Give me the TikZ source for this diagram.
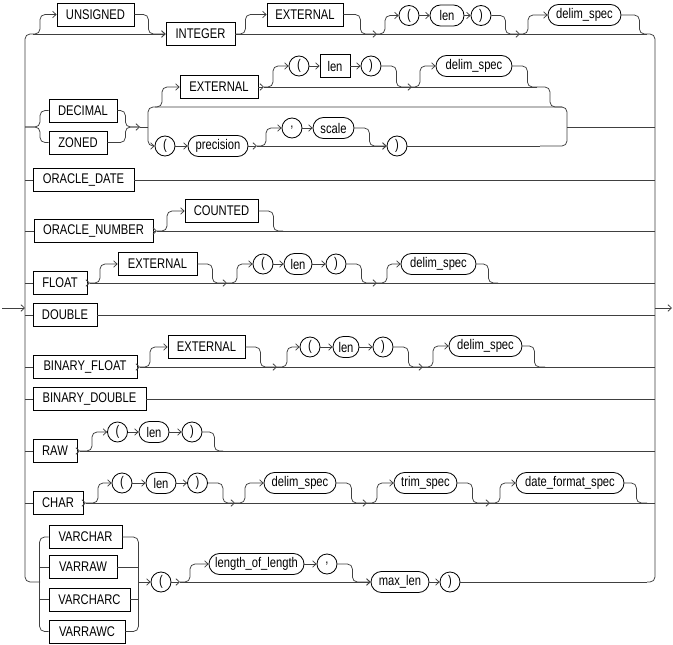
\documentclass[tikz,border=0pt]{standalone}
\usepackage{fontspec}
\setmainfont{Liberation Sans}[FakeStretch=0.8]
\usetikzlibrary{arrows.meta,shapes.misc}
\begin{document}
\begin{tikzpicture}[x=1pt,y=-1pt,
  line/.style={draw=black!75, line width=0.75pt, rounded corners=5pt},
  arr/.style={-{Straight Barb[length=3.5pt,width=6.5pt]}},
  jog/.style={to path={-- ++(#1,0) |- (\tikztotarget)}},
  rbox/.style={draw=black, line width=0.8pt, rectangle, minimum height=23pt, minimum width=#1, inner xsep=1pt, inner ysep=0pt},
  rterm/.style={draw=black, line width=0.8pt, rounded rectangle, minimum height=21pt, minimum width=#1, inner xsep=1pt, inner ysep=0pt},
  rcirc/.style={draw=black, line width=0.8pt, circle, minimum size=20pt, inner sep=0pt},
  every node/.style={font=\fontsize{14}{16}\selectfont}]
\path[use as bounding box, fill=white] (0,0) rectangle (673,645);

% ---------- frame coordinates ----------
\coordinate (a1) at (33,34);
\coordinate (lt) at (25,34);
\coordinate (lbt) at (25,582);
\coordinate (j11) at (40,582);
\coordinate (rt) at (647,34);
\coordinate (rtc) at (655,34);
\coordinate (rbc) at (655,582);
\coordinate (rb) at (647,582);
\coordinate (in) at (2,308);
\coordinate (inj) at (25,308);
\coordinate (outj) at (655,308);
\coordinate (out) at (672,308);

\draw[line] (a1) -- (lt) -- (lbt) -- (j11);
\draw[line] (rt) -- (rtc) -- (rbc) -- (rb);
\draw[line,arr] (in) -- (inj);
\draw[line,arr] (outj) -- (out);

% ---------- row 1 ----------
\node[rbox=77pt] (uns) at (95.5,14.5) {UNSIGNED};
\node[rbox=69pt] (int) at (200.5,34) {INTEGER};
\node[rbox=76pt] (exta) at (305,14.5) {EXTERNAL};
\node[rcirc] (lpa) at (409,15.5) {(};
\node[rterm=36pt] (lena) at (447,15.5) {len};
\node[rcirc] (rpa) at (481,15.5) {)};
\node[rterm=75pt] (dsa) at (584.5,15) {delim\_spec};
\coordinate (p1) at (377,34);
\coordinate (p2) at (520,34);
\draw[line,arr] (a1) to[jog=7] (uns.west);
\draw[line,arr] (a1) -- (int.west);
\draw[line,arr] (uns.east) to[jog=14] (int.west);
\draw[line,arr] (int.east) to[jog=10] (exta.west);
\draw[line] (int.east) -- (p1);
\draw[line,arr] (exta.east) to[jog=17] (p1);
\draw[line,arr] (p1) to[jog=8] (lpa.west);
\draw[line,arr] (lpa.east) -- (lena.west);
\draw[line,arr] (lena.east) -- (rpa.west);
\draw[line] (p1) -- (p2);
\draw[line,arr] (rpa.east) to[jog=14] (p2);
\draw[line,arr] (p2) to[jog=8] (dsa.west);
\draw[line] (p2) -- (rt);
\draw[line] (dsa.east) to[jog=18] (rt);

% ---------- row 2 ----------
\node[rbox=68pt] (dec) at (83,110.5) {DECIMAL};
\node[rbox=58pt] (zon) at (78,142.5) {ZONED};
\coordinate (l2) at (25,127);
\coordinate (j2) at (140,127);
\coordinate (k2) at (148,127);
\coordinate (k2t) at (148,107);
\coordinate (m2a) at (155,107);
\coordinate (m2c) at (562,107);
\coordinate (b2t) at (567,107);
\coordinate (b2m) at (567,127);
\coordinate (b2b) at (567,146);
\coordinate (c2e) at (540,146);
\coordinate (r2) at (655,127);
\draw[line] (l2) to[jog=15] (dec.west);
\draw[line] (l2) to[jog=15] (zon.west);
\draw[line,arr] (dec.east) to[jog=8] (j2);
\draw[line] (zon.east) to[jog=18] (j2);
\draw[line] (j2) -- (k2);
\draw[line] (k2) -- (k2t) -- (b2t) -- (b2b) -- (c2e);
\draw[line] (b2m) -- (r2);

\node[rbox=78pt] (extb) at (219,87) {EXTERNAL};
\node[rcirc] (lpb) at (299,66) {(};
\node[rbox=30pt] (lenb) at (335,66) {len};
\node[rcirc] (rpb) at (371,66) {)};
\node[rterm=78pt] (dsb) at (474,66) {delim\_spec};
\coordinate (p3) at (264,87);
\coordinate (p4) at (412,87);
\coordinate (p5) at (537,87);
\draw[line,arr] (m2a) to[jog=7] (extb.west);
\draw[line,arr] (extb.east) -- (p3);
\draw[line,arr] (p3) to[jog=9] (lpb.west);
\draw[line] (p3) -- (p4);
\draw[line,arr] (lpb.east) -- (lenb.west);
\draw[line,arr] (lenb.east) -- (rpb.west);
\draw[line,arr] (rpb.east) to[jog=15] (p4);
\draw[line,arr] (p4) to[jog=8] (dsb.west);
\draw[line] (p4) -- (p5);
\draw[line] (dsb.east) to[jog=15] (p5);
\draw[line] (p5) to[jog=13] (m2c);

\node[rcirc] (lpc) at (165,146) {(};
\node[rterm=62pt] (prec) at (218,146) {precision};
\node[rcirc] (cmc) at (292,128) {,};
\node[rterm=43pt] (scl) at (333.5,128) {scale};
\node[rcirc] (rpc) at (397,146) {)};
\coordinate (p6) at (257,146);
\draw[line,arr] (k2) |- (lpc.west);
\draw[line,arr] (lpc.east) -- (prec.west);
\draw[line,arr] (prec.east) -- (p6);
\draw[line,arr] (p6) to[jog=9] (cmc.west);
\draw[line,arr] (p6) -- (rpc.west);
\draw[line,arr] (cmc.east) -- (scl.west);
\draw[line,arr] (scl.east) to[jog=15] (rpc.west);
\draw[line] (rpc.east) -- (c2e);

% ---------- row 3 ----------
\node[rbox=101pt] (odt) at (83.5,180) {ORACLE\_DATE};
\coordinate (l3) at (25,180);
\coordinate (r3) at (655,180);
\draw[line] (l3) -- (odt.west);
\draw[line] (odt.east) -- (r3);

% ---------- row 4 ----------
\node[rbox=119pt] (onum) at (93.5,231) {ORACLE\_NUMBER};
\node[rbox=73pt] (cnt) at (221.5,211) {COUNTED};
\coordinate (l4) at (25,231);
\coordinate (r4) at (655,231);
\coordinate (p7) at (157,231);
\coordinate (q4) at (283,231);
\draw[line] (l4) -- (onum.west);
\draw[line,arr] (onum.east) -- (p7);
\draw[line,arr] (p7) to[jog=10] (cnt.west);
\draw[line] (p7) -- (r4);
\draw[line] (cnt.east) to[jog=15] (q4);

% ---------- row 5 ----------
\node[rbox=54pt] (flt) at (60,283) {FLOAT};
\node[rbox=79pt] (extc) at (157.5,264) {EXTERNAL};
\node[rcirc] (lpd) at (263,264) {(};
\node[rterm=30pt] (lend) at (298,264) {len};
\node[rcirc] (rpd) at (336,264) {)};
\node[rterm=77pt] (dsd) at (438.5,264) {delim\_spec};
\coordinate (l5) at (25,283);
\coordinate (r5) at (655,283);
\coordinate (p8) at (90,283);
\coordinate (p9) at (227,283);
\coordinate (p10) at (377,283);
\coordinate (q5) at (498,283);
\draw[line] (l5) -- (flt.west);
\draw[line,arr] (flt.east) -- (p8);
\draw[line,arr] (p8) to[jog=10] (extc.west);
\draw[line] (p8) -- (r5);
\draw[line,arr] (extc.east) to[jog=15] (p9);
\draw[line,arr] (p9) to[jog=10] (lpd.west);
\draw[line,arr] (lpd.east) -- (lend.west);
\draw[line,arr] (lend.east) -- (rpd.west);
\draw[line,arr] (rpd.east) to[jog=15] (p10);
\draw[line,arr] (p10) to[jog=10] (dsd.west);
\draw[line] (dsd.east) to[jog=12] (q5);

% ---------- row 6 ----------
\node[rbox=64pt] (dbl) at (65,315) {DOUBLE};
\coordinate (l6) at (25,315);
\coordinate (r6) at (655,315);
\draw[line] (l6) -- (dbl.west);
\draw[line] (dbl.east) -- (r6);

% ---------- row 7 ----------
\node[rbox=104pt] (bfl) at (85,367) {BINARY\_FLOAT};
\node[rbox=77pt] (extd) at (206.5,347) {EXTERNAL};
\node[rcirc] (lpe) at (310,347) {(};
\node[rterm=28pt] (lene) at (346,347) {len};
\node[rcirc] (rpe) at (383,347) {)};
\node[rterm=75pt] (dse) at (485.5,346) {delim\_spec};
\coordinate (l7) at (25,367);
\coordinate (r7) at (655,367);
\coordinate (p11) at (140,367);
\coordinate (p12) at (277,367);
\coordinate (p13) at (423,367);
\coordinate (q7) at (545,367);
\draw[line] (l7) -- (bfl.west);
\draw[line,arr] (bfl.east) -- (p11);
\draw[line,arr] (p11) to[jog=10] (extd.west);
\draw[line] (p11) -- (r7);
\draw[line,arr] (extd.east) to[jog=15] (p12);
\draw[line,arr] (p12) to[jog=10] (lpe.west);
\draw[line,arr] (lpe.east) -- (lene.west);
\draw[line,arr] (lene.east) -- (rpe.west);
\draw[line,arr] (rpe.east) to[jog=15] (p13);
\draw[line,arr] (p13) to[jog=10] (dse.west);
\draw[line] (dse.east) to[jog=12] (q7);

% ---------- row 8 ----------
\node[rbox=113pt] (bdb) at (89.5,399) {BINARY\_DOUBLE};
\coordinate (l8) at (25,399);
\coordinate (r8) at (655,399);
\draw[line] (l8) -- (bdb.west);
\draw[line] (bdb.east) -- (r8);

% ---------- row 9 ----------
\node[rbox=44pt] (raw) at (55,451) {RAW};
\node[rcirc] (lpf) at (117.5,432) {(};
\node[rterm=32pt] (lenf) at (154,432) {len};
\node[rcirc] (rpf) at (192,432) {)};
\coordinate (l9) at (25,451);
\coordinate (r9) at (655,451);
\coordinate (p14) at (80,451);
\coordinate (q9) at (223,451);
\draw[line] (l9) -- (raw.west);
\draw[line,arr] (raw.east) -- (p14);
\draw[line,arr] (p14) to[jog=12] (lpf.west);
\draw[line,arr] (lpf.east) -- (lenf.west);
\draw[line,arr] (lenf.east) -- (rpf.west);
\draw[line] (rpf.east) to[jog=12] (q9);
\draw[line] (p14) -- (r9);

% ---------- row 10 ----------
\node[rbox=50pt] (chr) at (58,503) {CHAR};
\node[rcirc] (lpg) at (122,483) {(};
\node[rterm=32pt] (leng) at (161,483) {len};
\node[rcirc] (rpg) at (197.5,483) {)};
\node[rterm=74pt] (dsg) at (300,483) {delim\_spec};
\node[rterm=65pt] (trm) at (425.5,483) {trim\_spec};
\node[rterm=110pt] (dfs) at (570,483) {date\_format\_spec};
\coordinate (l10) at (25,503);
\coordinate (r10) at (655,503);
\coordinate (p15) at (86,503);
\coordinate (p16) at (235,503);
\coordinate (p17) at (367,503);
\coordinate (p18) at (490,503);
\coordinate (q10) at (647,503);
\draw[line] (l10) -- (chr.west);
\draw[line,arr] (chr.east) -- (p15);
\draw[line,arr] (p15) to[jog=12] (lpg.west);
\draw[line,arr] (lpg.east) -- (leng.west);
\draw[line,arr] (leng.east) -- (rpg.west);
\draw[line,arr] (rpg.east) to[jog=15] (p16);
\draw[line,arr] (p16) to[jog=10] (dsg.west);
\draw[line,arr] (dsg.east) to[jog=15] (p17);
\draw[line,arr] (p17) to[jog=10] (trm.west);
\draw[line,arr] (trm.east) to[jog=15] (p18);
\draw[line,arr] (p18) to[jog=10] (dfs.west);
\draw[line] (dfs.east) to[jog=12] (q10);
\draw[line] (p15) -- (r10);

% ---------- row 11 ----------
\node[rbox=73pt] (vch) at (85.5,537) {VARCHAR};
\node[rbox=68pt] (vrw) at (83,567) {VARRAW};
\node[rbox=81pt] (vcc) at (89.5,599.5) {VARCHARC};
\node[rbox=76pt] (vrc) at (87,631.5) {VARRAWC};
\coordinate (bl1) at (40,567);
\coordinate (bl2) at (40,599.5);
\coordinate (br1) at (138,567);
\coordinate (br2) at (138,599.5);
\coordinate (j11r) at (138,582);
\draw[line] (vch.west) -- ++(-9,0) |- (vrc.west);
\draw[line] (bl1) -- (vrw.west);
\draw[line] (bl2) -- (vcc.west);
\draw[line] (vch.east) -- ++(16,0) |- (vrc.east);
\draw[line] (vrw.east) -- (br1);
\draw[line] (vcc.east) -- (br2);

\node[rcirc] (lph) at (161,582) {(};
\node[rterm=97pt] (lol) at (256.5,564) {length\_of\_length};
\node[rcirc] (cmh) at (327,564) {,};
\node[rterm=60pt] (mxl) at (400,582) {max\_len};
\node[rcirc] (rph) at (450,582) {)};
\coordinate (p19) at (180,582);
\draw[line,arr] (j11r) -- (lph.west);
\draw[line,arr] (lph.east) -- (p19);
\draw[line,arr] (p19) to[jog=10] (lol.west);
\draw[line,arr] (lol.east) -- (cmh.west);
\draw[line,arr] (cmh.east) to[jog=15] (mxl.west);
\draw[line,arr] (p19) -- (mxl.west);
\draw[line,arr] (mxl.east) -- (rph.west);
\draw[line] (rph.east) -- (rb);
\end{tikzpicture}
\end{document}
